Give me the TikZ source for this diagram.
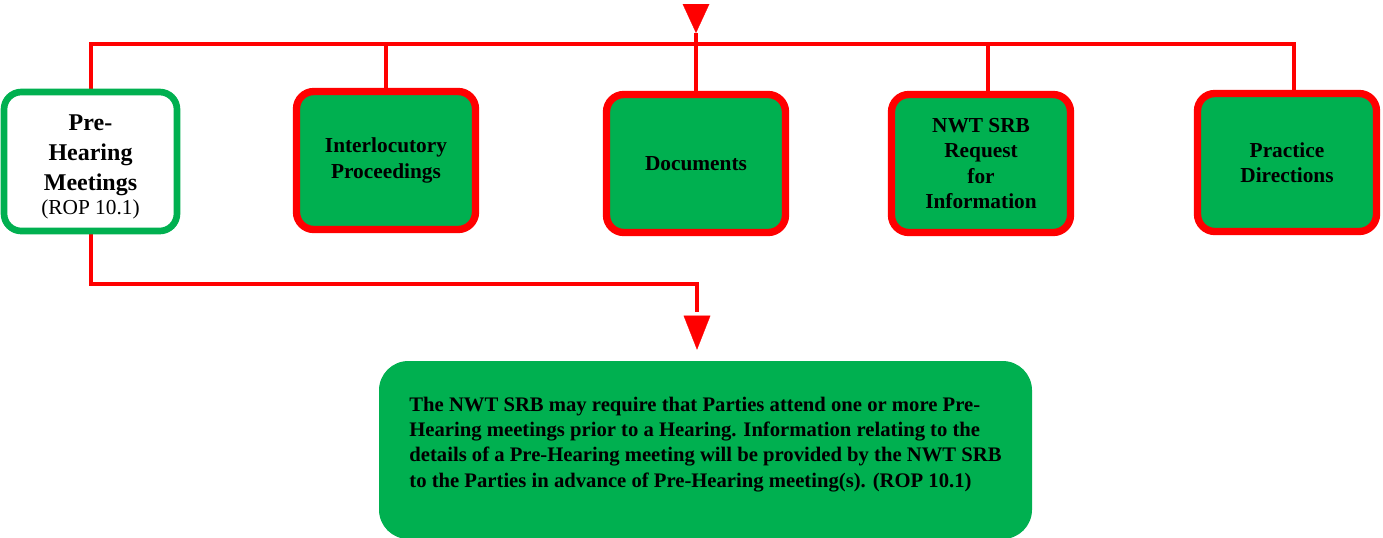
\documentclass[tikz,border=0pt]{standalone}
\usepackage{fontspec}
\setmainfont{Liberation Serif}
\usepackage{tikz}
\usetikzlibrary{arrows.meta, backgrounds}
\definecolor{boxgreen}{HTML}{00B050}
\definecolor{wirered}{HTML}{FF0000}

\begin{document}
\begin{tikzpicture}[x=0.75pt,y=0.75pt,yscale=-1,xscale=1,
    redbox/.style={draw=wirered, fill=boxgreen, line width=5.5pt, rounded corners=13pt,
        minimum width=134.25pt, minimum height=103.5pt, align=center, inner sep=2pt,
        font=\fontsize{16}{19}\selectfont\bfseries},
    greenbox/.style={draw=boxgreen, fill=white, line width=5pt, rounded corners=13pt,
        minimum width=129.75pt, minimum height=104.25pt, align=center, inner sep=2pt,
        font=\fontsize{18}{22.5}\selectfont\bfseries},
    notebox/.style={fill=boxgreen, rounded corners=22pt, minimum width=489.75pt,
        minimum height=133.5pt, inner sep=2pt,
        font=\fontsize{15.5}{19}\selectfont\bfseries},
    wire/.style={draw=wirered, line width=3pt},
    pointer/.style={draw=wirered, fill=wirered, line width=0.2pt,
        -{Triangle[length=#1,width=20pt]}},
    pointer/.default=21.75pt]
        \useasboundingbox (0,0) rectangle (1383,537);
        % boxes along the top
        \node [greenbox] (pre) at (90.5,161.5) {\rule{0pt}{20pt}Pre-\\Hearing\\Meetings\\[-4pt]{\fontsize{16}{19}\selectfont\mdseries (ROP 10.1)}};
        \node [redbox] (inter) at (386,160.5) {Interlocutory\\Proceedings};
        \node [redbox] (docs) at (696,163.5) {Documents};
        \node [redbox] (nwt) at (981,163.5) {NWT SRB\\Request\\for\\Information};
        \node [redbox] (pract) at (1287,162.5) {Practice\\Directions};
        % note at the bottom
        \node [notebox] (note) at (705.5,450) {\begin{tabular}{@{}l@{}}
            The NWT SRB may require that Parties attend one or more Pre-\\
            Hearing meetings prior to a Hearing. Information relating to the\\
            details of a Pre-Hearing meeting will be provided by the NWT SRB\\
            to the Parties in advance of Pre-Hearing meeting(s). (ROP 10.1)\\[9pt]
        \end{tabular}};
        % helper points
        \coordinate (feed) at (696,4);
        \coordinate (tipend) at (696,33);
        \coordinate (bus) at (696,43.5);
        \coordinate (d4) at ([xshift=5.25pt]nwt.north);
        \coordinate (d5) at ([xshift=5.25pt]pract.north);
        \coordinate (turn) at (697,283.5);
        \coordinate (drop) at (697,312);
        \coordinate (ahead) at (697,316);
        \begin{pgfonlayer}{background}
        % incoming arrow and bus
        \draw [pointer] (feed) -- (tipend);
        \draw [wire] (tipend) -- (docs.north);
        \draw [wire] (pre.north) |- (d5 |- bus) -- (d5);
        \draw [wire] (bus -| inter.north) -- (inter.north);
        \draw [wire] (bus -| d4) -- (d4);
        % down to the note
        \draw [wire] (pre.south) |- (turn) -- (drop);
        \draw [pointer=25.5pt, shorten >=8.25pt] (ahead) -- (ahead |- note.north);
        \end{pgfonlayer}
\end{tikzpicture}
\end{document}
